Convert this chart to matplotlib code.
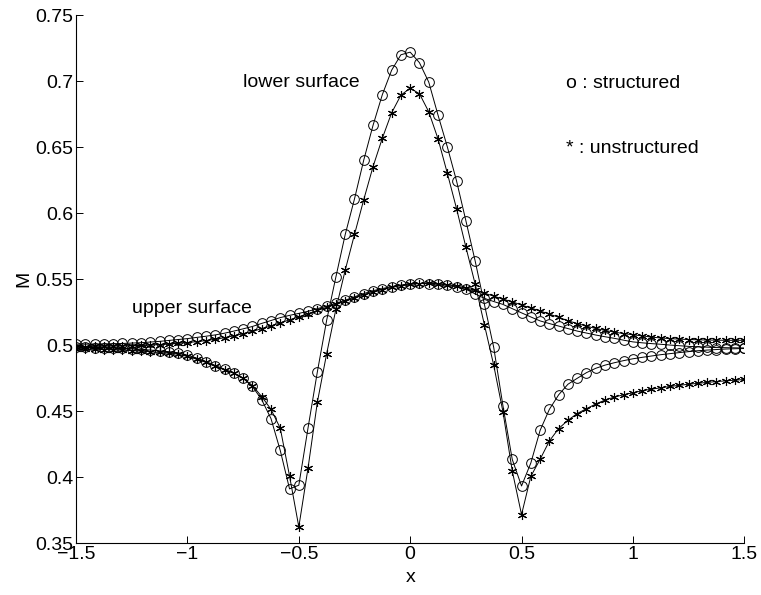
import numpy as np
import matplotlib
matplotlib.use("Agg")
import matplotlib.pyplot as plt

plt.rcParams['font.family'] = ['Liberation Sans', 'DejaVu Sans']

# grid: 73 stations from -1.5 to 1.5 (step 1/24)
x = np.linspace(-1.5, 1.5, 73)

# lower surface, structured grid (o)
lower_struct = [
    0.4985, 0.4984, 0.4983, 0.4981, 0.4979, 0.4976, 0.4973, 0.4969, 0.4964, 0.4958,
    0.4952, 0.4944, 0.4925, 0.4903, 0.4877, 0.4847, 0.4818, 0.4790, 0.4750, 0.4688,
    0.4588, 0.4445, 0.4203, 0.3912, 0.3940, 0.4377, 0.4800, 0.5190, 0.5520, 0.5840,
    0.6110, 0.6405, 0.6668, 0.6900, 0.7085, 0.7202, 0.7222, 0.7142, 0.6995, 0.6745,
    0.6505, 0.6245, 0.5945, 0.5640, 0.5310, 0.4985, 0.4540, 0.4135, 0.3934, 0.4108,
    0.4355, 0.4515, 0.4625, 0.4705, 0.4750, 0.4793, 0.4826, 0.4850, 0.4868, 0.4884,
    0.4898, 0.4909, 0.4919, 0.4929, 0.4937, 0.4945, 0.4952, 0.4959, 0.4964, 0.4968,
    0.4972, 0.4974, 0.4976,
]

# lower surface, unstructured grid (*)
lower_unstruct = [
    0.4972, 0.4971, 0.4970, 0.4968, 0.4966, 0.4963, 0.4960, 0.4956, 0.4951, 0.4946,
    0.4940, 0.4933, 0.4916, 0.4895, 0.4870, 0.4842, 0.4815, 0.4788, 0.4750, 0.4695,
    0.4612, 0.4515, 0.4372, 0.4010, 0.3624, 0.4073, 0.4570, 0.4937, 0.5275, 0.5570,
    0.5840, 0.6105, 0.6355, 0.6570, 0.6762, 0.6896, 0.6949, 0.6907, 0.6770, 0.6565,
    0.6305, 0.6035, 0.5745, 0.5465, 0.5155, 0.4850, 0.4495, 0.4048, 0.3717, 0.4007,
    0.4136, 0.4275, 0.4369, 0.4432, 0.4483, 0.4520, 0.4555, 0.4585, 0.4608, 0.4625,
    0.4640, 0.4655, 0.4668, 0.4678, 0.4688, 0.4697, 0.4705, 0.4712, 0.4719, 0.4725,
    0.4731, 0.4736, 0.4741,
]

# upper surface, structured grid (o)
upper_struct = [
    0.5008, 0.5009, 0.5010, 0.5011, 0.5012, 0.5014, 0.5017, 0.5020, 0.5025, 0.5030,
    0.5037, 0.5044, 0.5051, 0.5060, 0.5069, 0.5079, 0.5092, 0.5108, 0.5125, 0.5143,
    0.5166, 0.5188, 0.5210, 0.5227, 0.5242, 0.5258, 0.5278, 0.5297, 0.5318, 0.5342,
    0.5368, 0.5392, 0.5414, 0.5430, 0.5445, 0.5457, 0.5466, 0.5469, 0.5467, 0.5462,
    0.5454, 0.5443, 0.5425, 0.5390, 0.5356, 0.5332, 0.5310, 0.5278, 0.5246, 0.5215,
    0.5185, 0.5165, 0.5146, 0.5127, 0.5108, 0.5093, 0.5078, 0.5065, 0.5053, 0.5039,
    0.5026, 0.5019, 0.5013, 0.5008, 0.5002, 0.4997, 0.4992, 0.4989, 0.4986, 0.4983,
    0.4982, 0.4981, 0.4980,
]

# upper surface, unstructured grid (*)
upper_unstruct = [
    0.4990, 0.4991, 0.4992, 0.4993, 0.4994, 0.4995, 0.4997, 0.4999, 0.5002, 0.5006,
    0.5010, 0.5015, 0.5021, 0.5028, 0.5036, 0.5046, 0.5058, 0.5072, 0.5088, 0.5106,
    0.5126, 0.5147, 0.5170, 0.5193, 0.5216, 0.5240, 0.5264, 0.5288, 0.5312, 0.5336,
    0.5360, 0.5383, 0.5404, 0.5423, 0.5439, 0.5452, 0.5462, 0.5468, 0.5470, 0.5467,
    0.5460, 0.5449, 0.5435, 0.5417, 0.5395, 0.5373, 0.5350, 0.5330, 0.5305, 0.5283,
    0.5260, 0.5237, 0.5212, 0.5186, 0.5165, 0.5145, 0.5128, 0.5113, 0.5100, 0.5089,
    0.5080, 0.5072, 0.5062, 0.5056, 0.5051, 0.5047, 0.5044, 0.5042, 0.5040, 0.5039,
    0.5038, 0.5038, 0.5038,
]

xticks = [-1.5, -1, -0.5, 0, 0.5, 1, 1.5]
xticklabels = ['\u22121.5', '\u22121', '\u22120.5', '0', '0.5', '1', '1.5']
yticks = [0.35, 0.4, 0.45, 0.5, 0.55, 0.6, 0.65, 0.7, 0.75]
yticklabels = ['0.35', '0.4', '0.45', '0.5', '0.55', '0.6', '0.65', '0.7', '0.75']

fs = 14

fig = plt.figure(figsize=(7.61, 5.95), dpi=100)
ax = fig.add_axes([0.1, 0.087, 0.878, 0.887])

circ = dict(color='k', lw=0.7, marker='o', ms=7, mfc='none', mec='k', mew=0.7)
star = dict(color='k', lw=0.7, marker=(6, 2, 0), ms=6.5, mec='k', mew=0.8)

ax.plot(x, upper_struct, **circ)
ax.plot(x, upper_unstruct, **star)
ax.plot(x, lower_struct, **circ)
ax.plot(x, lower_unstruct, **star)

ax.set_xlim(-1.5, 1.5)
ax.set_ylim(0.35, 0.75)
ax.set_xticks(xticks)
ax.set_xticklabels(xticklabels)
ax.set_yticks(yticks)
ax.set_yticklabels(yticklabels)
ax.tick_params(direction='in', length=5, width=0.7, labelsize=fs, pad=2)
ax.spines['top'].set_visible(False)
ax.spines['right'].set_visible(False)
for s in ('left', 'bottom'):
    ax.spines[s].set_linewidth(0.8)

ax.set_xlabel('x', fontsize=fs, labelpad=4)
ax.set_ylabel('M', fontsize=fs, labelpad=2)

ax.text(-0.75, 0.699, 'lower surface', fontsize=fs, va='center')
ax.text(-1.25, 0.528, 'upper surface', fontsize=fs, va='center')
ax.text(0.70, 0.6985, 'o : structured', fontsize=fs, va='center')
ax.text(0.70, 0.649, '* : unstructured', fontsize=fs, va='center')

fig.savefig('out.png', dpi=100)
